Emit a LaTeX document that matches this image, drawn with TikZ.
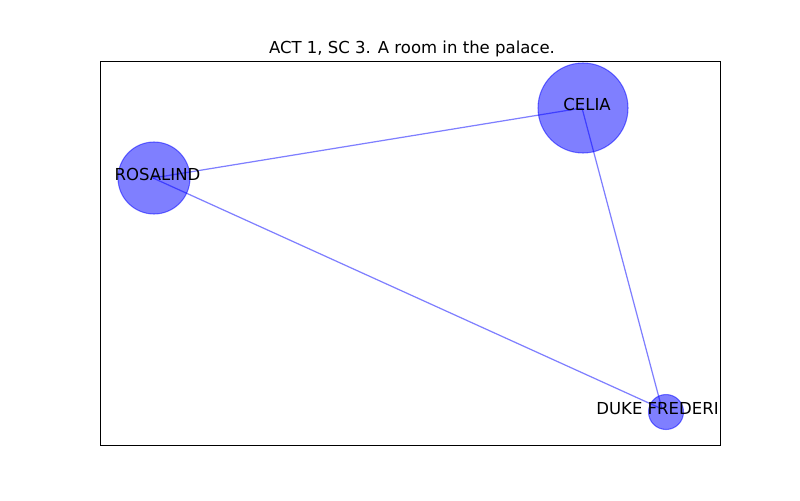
\documentclass[tikz,border=0pt]{standalone}
\usepackage{fontspec}
\setmainfont{DejaVu Sans}
\definecolor{nodeblue}{RGB}{0,0,255}

\tikzset{
  person/.style={circle, draw=nodeblue, fill=nodeblue, opacity=0.5, line width=0.6pt, inner sep=0pt},
  tie/.style={draw=nodeblue, opacity=0.5, line width=0.7pt},
  castname/.style={inner sep=0pt, font=\fontsize{9.4}{11}\selectfont}
}

\begin{document}
\begin{tikzpicture}[x=0.02cm, y=-0.02cm]
      \useasboundingbox (0,0) rectangle (800,500);
      
      % edges first, nodes over them
      \coordinate (rosalindC) at (153,178);
      \coordinate (celiaC) at (582,108);
      \coordinate (dukeC) at (662,409);
      
      \draw[tie] (rosalindC) -- (celiaC);
      \draw[tie] (rosalindC) -- (dukeC);
      \draw[tie] (celiaC) -- (dukeC);
      
      \node[person, minimum size=90*0.02cm] (celia) at (583,108) {};
      \node[person, minimum size=72*0.02cm] (rosalind) at (154,178) {};
      \node[person, minimum size=35*0.02cm] (duke) at (666,412) {};
      
      \node[castname] (celiaL) at (587,104.5) {CELIA};
      \node[castname] (rosalindL) at (157.5,174) {ROSALIND};
      \node[castname] (dukeL) at (657.5,409) {DUKE FREDERI};
      
      % axes frame and title
      \draw[line width=0.5pt] (100,61) rectangle (720,445);
      \node[castname, anchor=base] (title) at (412,53) {ACT 1, SC 3. A room in the palace.};
  \end{tikzpicture}
\end{document}
